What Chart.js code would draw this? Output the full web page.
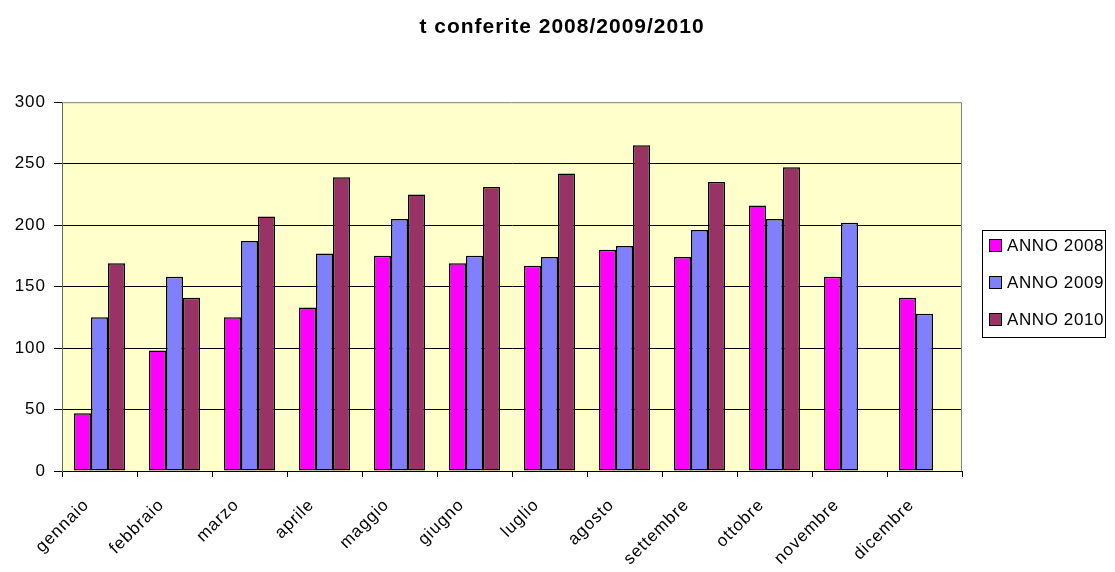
<!DOCTYPE html>
<html>
<head>
<meta charset="utf-8">
<script src="https://cdn.jsdelivr.net/npm/chart.js@4"></script>
<style>
    body { margin: 0; background: #fff; font-family: "Liberation Sans", Arial, sans-serif; }
    #wrap { position: relative; width: 1115px; height: 572px; }
    #legend {
        position: absolute; left: 982px; top: 230px; width: 124px; height: 108px;
        border: 1px solid #000; background: #fff; box-sizing: border-box;
    }
    #legend .items { position: relative; top: -4px; }
    .item {
        display: flex; align-items: center; height: 37px; font-size: 17px;
        letter-spacing: 0.6px; white-space: nowrap; color: #000;
    }
    .sw { flex: none; width: 11px; height: 11px; border: 1px solid #000; margin: 0 5px 0 6px; }
</style>
</head>
<body>
<div id="wrap">
    <canvas id="chart" width="1115" height="572"></canvas>
    <div id="legend"><div class="items"></div></div>
</div>
<script>
// Chart data
const months = ['gennaio', 'febbraio', 'marzo', 'aprile', 'maggio', 'giugno',
    'luglio', 'agosto', 'settembre', 'ottobre', 'novembre', 'dicembre'];
const anno2008 = [47, 98, 125, 133, 175, 169, 167, 180, 174, 216, 158, 141];
const anno2009 = [125, 158, 187, 177, 205, 175, 174, 183, 196, 205, 202, 128];
const anno2010 = [169, 141, 207, 239, 225, 231, 242, 265, 235, 247, null, null];
const seriesLabels = ['ANNO 2008', 'ANNO 2009', 'ANNO 2010'];
const seriesColors = ['#FF00FF', '#8080FF', '#993366'];

const FONT = "'Liberation Sans', Arial, sans-serif";

// Wider letter spacing, like the original spreadsheet text
const spacing = {
    id: 'spacing',
    beforeUpdate(chart) { chart.ctx.letterSpacing = '1px'; },
    beforeDraw(chart) { chart.ctx.letterSpacing = '1px'; }
};

// Yellow plot background and gray frame
const plotFrame = {
    id: 'plotFrame',
    beforeDraw(chart) {
        const { ctx, chartArea: a } = chart;
        ctx.save();
        ctx.fillStyle = '#FFFFCC';
        ctx.fillRect(a.left, a.top, a.right - a.left, a.bottom - a.top);
        ctx.restore();
    },
    afterDatasetsDraw(chart) {
        const { ctx, chartArea: a } = chart;
        ctx.save();
        ctx.strokeStyle = '#808080';
        ctx.lineWidth = 1;
        ctx.beginPath();
        ctx.moveTo(a.left, a.top + 0.5);
        ctx.lineTo(a.right - 0.5, a.top + 0.5);
        ctx.lineTo(a.right - 0.5, a.bottom);
        ctx.stroke();
        ctx.restore();
    }
};

const datasets = [anno2008, anno2009, anno2010].map((data, i) => ({
    label: seriesLabels[i],
    data: data,
    backgroundColor: seriesColors[i],
    borderColor: '#000',
    borderWidth: 1.5,
    borderSkipped: false,
    categoryPercentage: 0.68,
    barPercentage: 1.0
}));

new Chart(document.getElementById('chart'), {
    type: 'bar',
    data: { labels: months, datasets: datasets },
    plugins: [spacing, plotFrame],
    options: {
        responsive: false,
        animation: false,
        layout: { padding: { left: 9, right: 0, top: 0, bottom: 0 } },
        scales: {
            x: {
                afterFit: scale => { scale.height = 101; },
                grid: {
                    offset: true,
                    drawOnChartArea: false,
                    drawTicks: true,
                    tickLength: 6,
                    color: '#000'
                },
                border: { color: '#000', width: 1 },
                ticks: {
                    color: '#000',
                    font: { family: FONT, size: 17 },
                    maxRotation: 45,
                    minRotation: 45,
                    padding: 18,
                    labelOffset: -13,
                    autoSkip: false
                }
            },
            y: {
                min: 0,
                max: 300,
                afterFit: scale => { scale.width = 53; },
                grid: {
                    color: ctx => ctx.tick && ctx.tick.value === 300 ? 'rgba(0,0,0,0)' : '#000',
                    tickColor: '#000',
                    tickLength: 8,
                    lineWidth: 1
                },
                border: { color: '#666', width: 1 },
                ticks: {
                    stepSize: 50,
                    color: '#000',
                    padding: 8,
                    font: { family: FONT, size: 17 }
                }
            },
            // empty right-hand axis that keeps room for the legend
            yRight: {
                position: 'right',
                afterFit: scale => { scale.width = 153; },
                grid: { drawOnChartArea: false, drawTicks: false },
                border: { display: false },
                ticks: { display: false }
            }
        },
        plugins: {
            legend: { display: false },
            tooltip: { enabled: false },
            title: {
                display: true,
                text: 't conferite 2008/2009/2010',
                color: '#000',
                font: { family: FONT, size: 21, weight: 'bold', lineHeight: 1.2 },
                padding: { top: 15, bottom: 62 }
            }
        }
    }
});

// Legend box built from the series arrays
const legendItems = document.querySelector('#legend .items');
seriesLabels.forEach((label, i) => {
    const item = document.createElement('div');
    item.className = 'item';
    const sw = document.createElement('span');
    sw.className = 'sw';
    sw.style.background = seriesColors[i];
    const txt = document.createElement('span');
    txt.textContent = label;
    item.appendChild(sw);
    item.appendChild(txt);
    legendItems.appendChild(item);
});
</script>
</body>
</html>
